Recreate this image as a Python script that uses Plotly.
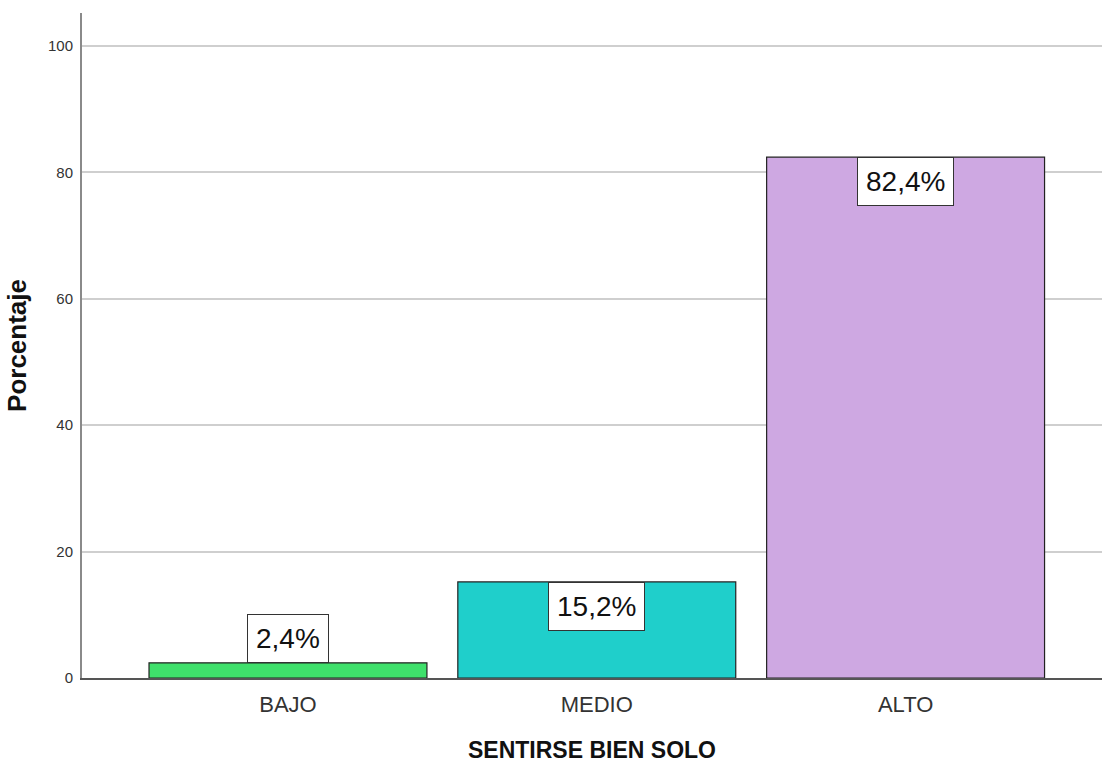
import plotly.graph_objects as go

# Data
categories = ["BAJO", "MEDIO", "ALTO"]
percentages = [2.4, 15.2, 82.4]
bar_colors = ["#3fe06b", "#1fcfcb", "#cea8e2"]
y_ticks = [0, 20, 40, 60, 80, 100]

font_family = "Liberation Sans, Arial, sans-serif"

x_pos = list(range(len(categories)))

fig = go.Figure()
fig.add_trace(go.Bar(
    x=x_pos,
    y=percentages,
    width=0.9,
    marker=dict(color=bar_colors, line=dict(color="#222222", width=1.2)),
    hoverinfo="skip",
))

# Value labels: boxed, inside the top of the bar, or above it when the bar is short
for xi, v in zip(x_pos, percentages):
    label = f"{v:.1f}".replace(".", ",") + "%"
    fig.add_annotation(
        x=xi, y=v, text=label, showarrow=False,
        yanchor="top" if v >= 8 else "bottom",
        font=dict(family=font_family, size=28, color="#111111"),
        bgcolor="white", bordercolor="#333333", borderwidth=1, borderpad=8,
    )

fig.update_layout(
    width=1102, height=770,
    margin=dict(l=82, r=0, t=13, b=92),
    paper_bgcolor="white", plot_bgcolor="white",
    showlegend=False,
    xaxis=dict(
        range=[-0.667, 2.636],
        tickvals=x_pos, ticktext=categories,
        tickfont=dict(family=font_family, size=22, color="#333333"),
        showgrid=False, zeroline=False,
        showline=True, linecolor="#555555", linewidth=1.5,
        ticks="", ticklabelstandoff=6,
        title=dict(text="SENTIRSE BIEN SOLO",
                   font=dict(family=font_family, size=23, color="#111111", weight="bold"),
                   standoff=26),
    ),
    yaxis=dict(
        range=[0, 105.2],
        tickvals=y_ticks,
        tickfont=dict(family=font_family, size=15, color="#333333"),
        showgrid=True, gridcolor="#cfcfcf", gridwidth=2,
        zeroline=False,
        showline=True, linecolor="#8a8a8a", linewidth=2,
        ticks="", ticklabelstandoff=4,
        title=dict(text="Porcentaje",
                   font=dict(family=font_family, size=26, color="#111111", weight="bold"),
                   standoff=14),
    ),
)

fig.write_html("out.html")
